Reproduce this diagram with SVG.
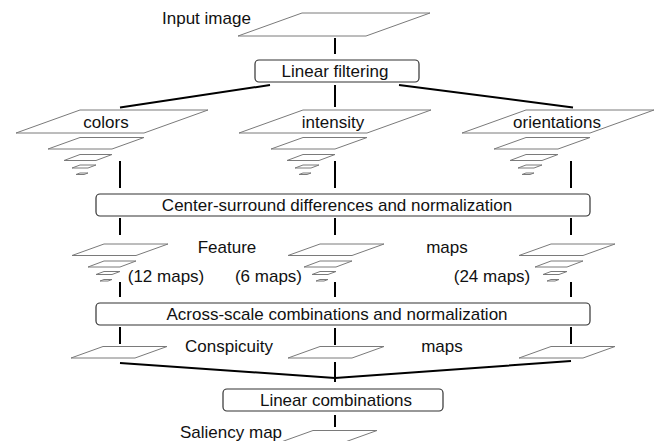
<svg xmlns="http://www.w3.org/2000/svg" xmlns:xlink="http://www.w3.org/1999/xlink" width="660" height="441" viewBox="0 0 660 441">
<style>
  .lbl{font-family:"Liberation Sans",Arial,sans-serif;font-size:17px;fill:#111}
  .mid{text-anchor:middle}
  .map{fill:#fff;stroke:#7a7a7a;stroke-width:1}
  .box{fill:#fff;stroke:#333;stroke-width:1.2}
  .con{stroke:#000;stroke-width:2;fill:none}
</style>
<defs>
  <path id="big" class="map" d="M0,0 H128 L64,23 H-64 Z"/>
  <g id="pyr">
    <path class="map" d="M0,0 H64 L32,11.5 H-32 Z"/>
    <path class="map" d="M0,17 H32 L16,23 H-16 Z"/>
    <path class="map" d="M0,27.5 H16 L8,30.5 H-8 Z"/>
    <path class="map" d="M0,35.5 H8 L4,37 H-4 Z"/>
  </g>
  <path id="med" class="map" d="M0,0 H64 L32,11.5 H-32 Z"/>
</defs>

<g id="connectors">
  <line class="con" x1="335" y1="38" x2="335" y2="54"/>
  <line class="con" x1="335" y1="85" x2="335" y2="107"/>
  <line class="con" x1="270" y1="85" x2="120" y2="107.5"/>
  <line class="con" x1="399" y1="85" x2="573" y2="107.5"/>
  <line class="con" x1="120" y1="161" x2="120" y2="188"/>
  <line class="con" x1="335" y1="161" x2="335" y2="188"/>
  <line class="con" x1="571" y1="161" x2="571" y2="188"/>
  <line class="con" x1="120" y1="218" x2="120" y2="235"/>
  <line class="con" x1="335" y1="218" x2="335" y2="235"/>
  <line class="con" x1="571" y1="218" x2="571" y2="235"/>
  <line class="con" x1="120" y1="282" x2="120" y2="297"/>
  <line class="con" x1="335" y1="282" x2="335" y2="297"/>
  <line class="con" x1="571" y1="282" x2="571" y2="297"/>
  <line class="con" x1="120" y1="327" x2="120" y2="344"/>
  <line class="con" x1="335" y1="328" x2="335" y2="345"/>
  <line class="con" x1="571" y1="327" x2="571" y2="344"/>
  <polyline class="con" points="120,363 335,378 571,361"/>
  <line class="con" x1="335" y1="362" x2="335" y2="382"/>
  <line class="con" x1="335" y1="415" x2="335" y2="427"/>
</g>

<g id="input-image">
  <use xlink:href="#big" x="302" y="13"/>
  <text class="lbl" x="162" y="24">Input image</text>
</g>

<g id="linear-filtering">
  <rect class="box" x="255" y="60" width="164" height="22" rx="4"/>
  <text class="lbl mid" x="335" y="76.5">Linear filtering</text>
</g>

<g id="colors">
  <use xlink:href="#big" x="80" y="110"/>
  <use xlink:href="#pyr" x="80" y="137.5"/>
  <text class="lbl mid" x="106" y="127.5">colors</text>
</g>

<g id="intensity">
  <use xlink:href="#big" x="303" y="110"/>
  <use xlink:href="#pyr" x="303" y="137.5"/>
  <text class="lbl mid" x="333" y="127.5">intensity</text>
</g>

<g id="orientations">
  <use xlink:href="#big" x="526" y="110"/>
  <use xlink:href="#pyr" x="526" y="137.5"/>
  <text class="lbl mid" x="557" y="127.5">orientations</text>
</g>

<g id="center-surround">
  <rect class="box" x="96" y="194" width="494" height="22" rx="4"/>
  <text class="lbl mid" x="337" y="210.5">Center-surround differences and normalization</text>
</g>

<g id="feature-maps-colors">
  <use xlink:href="#pyr" x="104" y="244"/>
  <text class="lbl mid" x="166" y="282">(12 maps)</text>
</g>
<g id="feature-maps-intensity">
  <use xlink:href="#pyr" x="320" y="244"/>
  <text class="lbl mid" x="268.5" y="282">(6 maps)</text>
</g>
<g id="feature-maps-orientations">
  <use xlink:href="#pyr" x="551" y="244"/>
  <text class="lbl mid" x="492" y="282">(24 maps)</text>
</g>
<g id="feature-maps-label">
  <text class="lbl mid" x="227" y="252.5">Feature</text>
  <text class="lbl mid" x="447" y="252.5">maps</text>
</g>

<g id="across-scale">
  <rect class="box" x="96" y="303" width="494" height="22" rx="4"/>
  <text class="lbl mid" x="337" y="320">Across-scale combinations and normalization</text>
</g>

<g id="conspicuity-colors">
  <use xlink:href="#med" x="103" y="346.5"/>
</g>
<g id="conspicuity-intensity">
  <use xlink:href="#med" x="320" y="346.5"/>
</g>
<g id="conspicuity-orientations">
  <use xlink:href="#med" x="551" y="346.5"/>
</g>
<g id="conspicuity-label">
  <text class="lbl mid" x="229" y="352">Conspicuity</text>
  <text class="lbl mid" x="442" y="352">maps</text>
</g>

<g id="linear-combinations">
  <rect class="box" x="223" y="389" width="220" height="22" rx="4"/>
  <text class="lbl mid" x="336" y="405.5">Linear combinations</text>
</g>

<g id="saliency-map">
  <use xlink:href="#med" x="313" y="430.5"/>
  <text class="lbl" x="180" y="437.5">Saliency map</text>
</g>
</svg>
